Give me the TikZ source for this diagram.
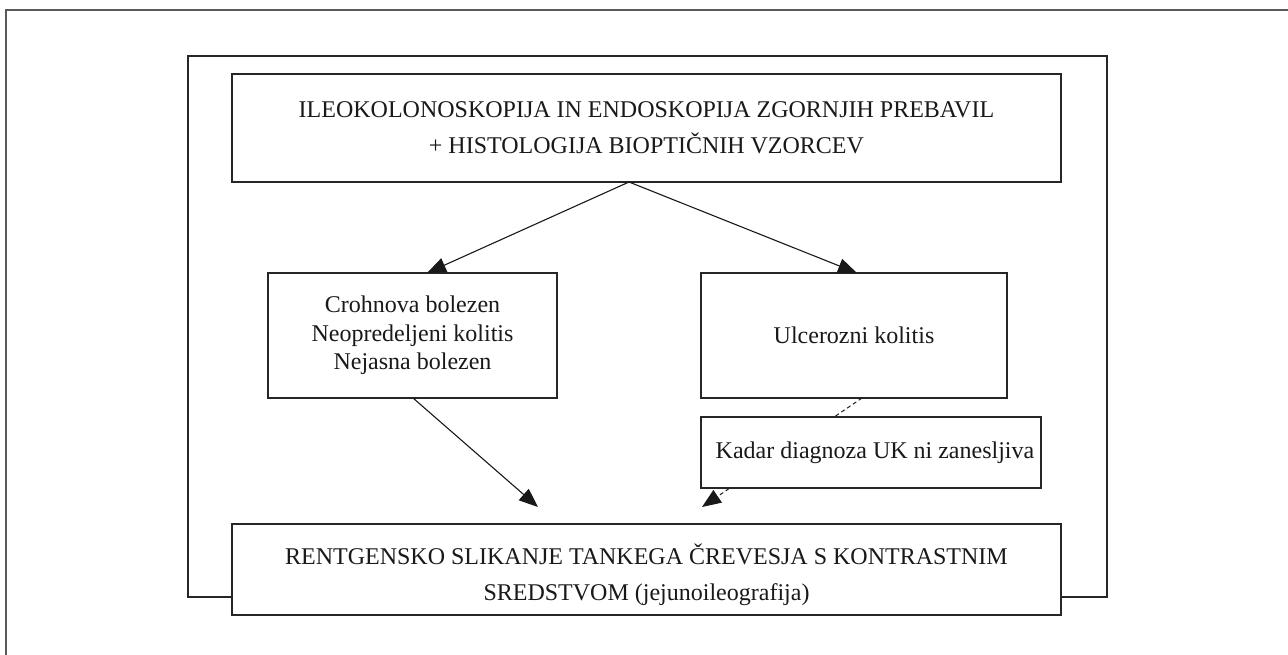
\documentclass[tikz,border=0pt]{standalone}
\usepackage{fontspec}
\setmainfont{Liberation Serif}
\usetikzlibrary{arrows.meta}
\begin{document}
\begin{tikzpicture}[x=1pt,y=-1pt,
  box/.style={draw=black!85, line width=1.2pt, fill=white, rectangle, inner sep=0pt,
    align=center, font=\fontsize{24}{36}\selectfont, text=black!90},
  txt/.style={inner sep=0pt, align=center, font=\fontsize{24}{36}\selectfont, text=black!90},
  arr/.style={draw=black!90, line width=1.1pt, -{Triangle[length=19pt,width=15pt]}},
  darr/.style={draw=black!90, line width=1pt, dash pattern=on 4pt off 3pt, -{Triangle[length=19pt,width=15pt]}}
]
\useasboundingbox (0,0) rectangle (1288,654);
% outer frame (only top and left visible)
\draw[black!65, line width=1.6pt] (6,660) -- (6,10) -- (1295,10);
% middle frame
\draw[black!85, line width=1.2pt] (188,56) rectangle (1107,597);

\node[box, minimum width=829pt, minimum height=108pt] (top) at (646.5,128)
  {ILEOKOLONOSKOPIJA IN ENDOSKOPIJA ZGORNJIH PREBAVIL\\+ HISTOLOGIJA BIOPTIČNIH VZORCEV};
\node[box, minimum width=289pt, minimum height=125pt, font=\fontsize{24}{28.5}\selectfont] (left) at (412.5,335.5)
  {Crohnova bolezen\\Neopredeljeni kolitis\\Nejasna bolezen};
\node[box, minimum width=306pt, minimum height=125pt] (right) at (854,335.5)
  {Ulcerozni kolitis};

\coordinate (topout) at (629,182);
\coordinate (ltip) at (427,273);
\coordinate (rtip) at (857,273);
\coordinate (lout) at (413,398);
\coordinate (ltip2) at (538,507);
\coordinate (rout) at (862,398);
\coordinate (rtip2) at (702,507);

\draw[arr] (topout) -- (ltip);
\draw[arr] (topout) -- (rtip);
\draw[arr] (lout) -- (ltip2);
\draw[darr] (rout) -- (rtip2);

\node[box, minimum width=340pt, minimum height=71pt] (kadar) at (871,452.5) {};
\node[txt] (kadartxt) at (875,453) {Kadar diagnoza UK ni zanesljiva};
\node[box, minimum width=829pt, minimum height=91pt] (bottom) at (646.5,569.5) {};
\node[txt] (bottomtxt) at (646.5,575)
  {RENTGENSKO SLIKANJE TANKEGA ČREVESJA S KONTRASTNIM\\SREDSTVOM (jejunoileografija)};
\end{tikzpicture}
\end{document}
